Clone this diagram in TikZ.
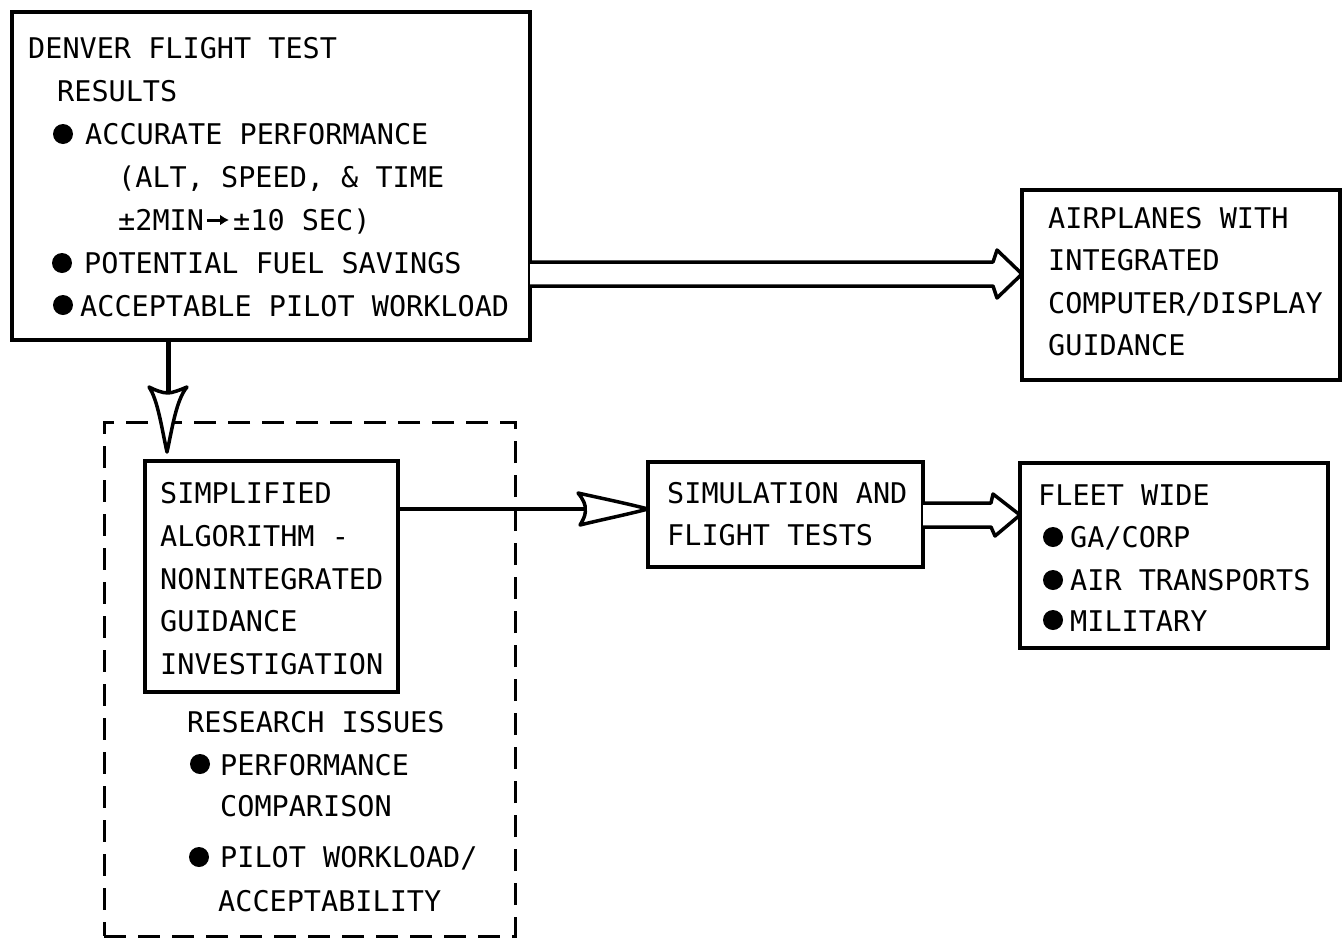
\documentclass[tikz,border=0pt]{standalone}
\usepackage{fontspec}
\usetikzlibrary{arrows.meta}
\newfontfamily\lettering{DejaVu Sans Mono}
\begin{document}
\begin{tikzpicture}[x=1pt,y=-1pt,
  box/.style={draw, line width=3.5pt, inner sep=0pt, outer sep=0pt, anchor=north west},
  dbox/.style={draw, line width=3pt, dash pattern=on 22pt off 12pt, inner sep=0pt, outer sep=0pt, anchor=north west},
  txt/.style={anchor=base west, inner sep=0pt, font=\lettering\fontsize{28.5}{34}\selectfont},
  dot/.style={circle, fill, minimum size=20pt, inner sep=0pt},
  head/.style={line width=3.5pt, line join=round, fill=white}]
\useasboundingbox (0,0) rectangle (1342,940);
\fill[white] (0,0) rectangle (1342,940);

% boxes
\node[box, minimum width=518pt, minimum height=328pt] (A) at (12,12) {};
\node[box, minimum width=318pt, minimum height=190pt] (B) at (1022,190) {};
\node[dbox, minimum width=411pt, minimum height=514pt] (D) at (104,422) {};
\node[box, minimum width=253pt, minimum height=231pt] (C) at (145,461) {};
\node[box, minimum width=275pt, minimum height=105pt] (E) at (648,462) {};
\node[box, minimum width=308pt, minimum height=185pt] (F) at (1020,463) {};

% box A text
\node[txt] (a1) at (28,58) {DENVER FLIGHT TEST};
\node[txt] (a2) at (57,101) {RESULTS};
\node[dot] (ad1) at (63,134) {};
\node[txt] (a3) at (85,144) {ACCURATE PERFORMANCE};
\node[txt] (a4) at (118,187) {(ALT, SPEED, \& TIME};
\node[txt] (a5) at (118,230) {±2MIN};
\node[txt] (a6) at (233,230) {±10 SEC)};
\coordinate (ar1) at (207,220);
\coordinate (ar2) at (229,220);
\draw[line width=3pt, -{Latex[length=9pt,width=11pt]}] (ar1) -- (ar2);
\node[dot] (ad2) at (62,263) {};
\node[txt] (a7) at (84,273) {POTENTIAL FUEL SAVINGS};
\node[dot] (ad3) at (63,305) {};
\node[txt] (a8) at (80,316) {ACCEPTABLE PILOT WORKLOAD};

% box B text
\node[txt] (b1) at (1048,228) {AIRPLANES WITH};
\node[txt] (b2) at (1048,270) {INTEGRATED};
\node[txt] (b3) at (1048,313) {COMPUTER/DISPLAY};
\node[txt] (b4) at (1048,355) {GUIDANCE};

% box C text
\node[txt] (c1) at (160,503) {SIMPLIFIED};
\node[txt] (c2) at (160,546) {ALGORITHM -};
\node[txt] (c3) at (160,589) {NONINTEGRATED};
\node[txt] (c4) at (160,631) {GUIDANCE};
\node[txt] (c5) at (160,674) {INVESTIGATION};

% research issues
\node[txt] (r1) at (187,732) {RESEARCH ISSUES};
\node[dot] (rd1) at (200,764) {};
\node[txt] (r2) at (220,775) {PERFORMANCE};
\node[txt] (r3) at (220,816) {COMPARISON};
\node[dot] (rd2) at (199,857) {};
\node[txt] (r4) at (220,867) {PILOT WORKLOAD/};
\node[txt] (r5) at (218,911) {ACCEPTABILITY};

% box E text
\node[txt] (e1) at (667,503) {SIMULATION AND};
\node[txt] (e2) at (667,545) {FLIGHT TESTS};

% box F text
\node[txt] (f1) at (1038,505) {FLEET WIDE};
\node[dot] (fd1) at (1053,537) {};
\node[txt] (f2) at (1070,547) {GA/CORP};
\node[dot] (fd2) at (1053,580) {};
\node[txt] (f3) at (1070,590) {AIR TRANSPORTS};
\node[dot] (fd3) at (1053,620) {};
\node[txt] (f4) at (1070,631) {MILITARY};

% helper coordinates
\coordinate (y262) at (0,262);
\coordinate (y274) at (0,274);
\coordinate (y286) at (0,286);
\coordinate (y503) at (0,503);
\coordinate (y515) at (0,515);
\coordinate (y527) at (0,527);
\coordinate (y509) at (0,509);
\coordinate (xs) at (168,0);

% A -> B hollow double arrow
\draw[head] (A.east |- y262) -- (993,262) -- (997,250) -- (B.west |- y274) -- (997,298) -- (993,286) -- (A.east |- y286);

% E -> F hollow double arrow
\draw[head] (E.east |- y503) -- (991,503) -- (993,494) -- (F.west |- y515) -- (995,536) -- (991,527) -- (E.east |- y527);

% A -> D down arrow
\coordinate (dtip) at (167,452);
\draw[line width=5pt] (A.south -| xs) -- (168,393);
\draw[head] (149,387) .. controls (158,400) and (162,430) .. (dtip)
  .. controls (172,430) and (176,400) .. (187,387)
  .. controls (180,390) and (172,393) .. (168,393)
  .. controls (162,393) and (155,390) .. (149,387) -- cycle;

% C -> E arrow
\draw[line width=4pt] (C.east |- y509) -- (585,509);
\draw[head] (578,493) .. controls (600,498) and (625,503) .. (E.west |- y509)
  .. controls (625,515) and (600,520) .. (580,525)
  .. controls (585,517) and (586,512) .. (585,509)
  .. controls (586,505) and (583,499) .. (578,493) -- cycle;
\end{tikzpicture}
\end{document}
